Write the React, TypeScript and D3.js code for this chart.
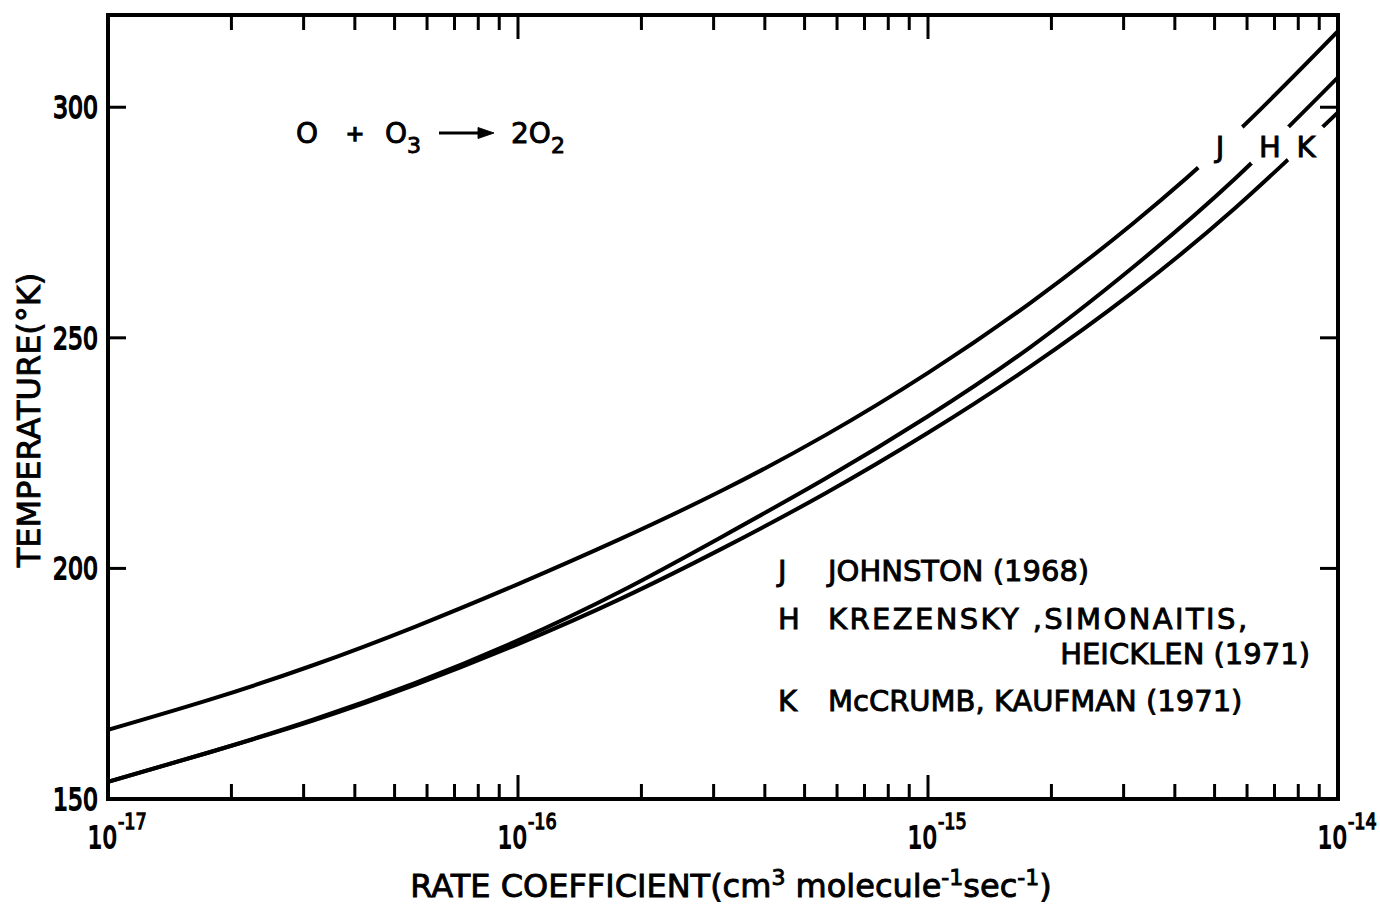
import * as d3 from "d3";

// rate coefficient (cm3 molecule-1 sec-1), quarter-decade steps
const rateCoeff = [
  1e-17, 1.778e-17, 3.162e-17, 5.623e-17,
  1e-16, 1.778e-16, 3.162e-16, 5.623e-16,
  1e-15, 1.778e-15, 3.162e-15, 5.623e-15,
  1e-14,
];
// temperature (K)
const tempJ = [165.0, 171.6, 179.0, 187.4, 196.6, 206.4, 217.0, 228.9, 242.4, 257.6, 274.8, 294.3, 316.5];
const tempH = [153.7, 160.2, 167.2, 175.2, 184.4, 195.0, 207.0, 219.5, 233.0, 248.0, 265.3, 284.6, 306.5];
const tempK = [153.7, 160.2, 167.0, 174.8, 183.6, 193.4, 204.4, 216.3, 229.4, 243.8, 259.9, 278.2, 298.9];

const seriesKeys = ["J", "H", "K"];
const yTicks = [200, 250, 300];
const yTickLabels = [150, 200, 250, 300];
const xDecades = [-17, -16, -15, -14];

const legendKeys = ["J", "H", "K"];
const legendNames = ["JOHNSTON (1968)", "KREZENSKY ,SIMONAITIS,", "McCRUMB,  KAUFMAN (1971)"];
const legendExtra = "HEICKLEN (1971)";

const W = 1380, H = 909;
const left = 108, right = 1338, top = 15, bottom = 799;

const font = "'DejaVu Sans', sans-serif";
// heavier lettering, like the stencilled original
const ink = { fill: "#000", stroke: "#000", strokeWidth: 0.9 };

export default function App() {
  const x = d3.scaleLog().domain([1e-17, 1e-14]).range([left, right]);
  const y = d3.scaleLinear().domain([150, 320]).range([bottom, top]);

  const series = [tempJ, tempH, tempK];
  const line = d3
    .line<number>()
    .x((_, i) => x(rateCoeff[i]))
    .y((d) => y(d))
    .curve(d3.curveNatural);

  // label spots sit in a break of each curve
  const labelPos = [
    { x: 1220, y: 147, r: 30 },
    { x: 1270, y: 145, r: 26 },
    { x: 1306, y: 144, r: 24 },
  ];

  const xTicks = x.ticks();
  const isMajor = (t: number) => Math.abs(Math.log10(t) - Math.round(Math.log10(t))) < 1e-6;

  return (
    <svg width={W} height={H} style={{ position: "absolute", left: 0, top: 0, background: "#fff" }}>
      <defs>
        <clipPath id="plot">
          <rect x={left} y={top} width={right - left} height={bottom - top} />
        </clipPath>
        {labelPos.map((p, i) => (
          <mask id={"gap" + i} key={i}>
            <rect x={0} y={0} width={W} height={H} fill="#fff" />
            <circle cx={p.x} cy={p.y} r={p.r} fill="#000" />
          </mask>
        ))}
      </defs>

      {/* curves */}
      <g clipPath="url(#plot)">
        {series.map((s, i) => (
          <path key={i} d={line(s) || ""} fill="none" stroke="#000" strokeWidth={4} mask={`url(#gap${i})`} />
        ))}
      </g>

      {/* frame */}
      <rect x={left} y={top} width={right - left} height={bottom - top} fill="none" stroke="#000" strokeWidth={4} />

      {/* x ticks, bottom and top */}
      <g stroke="#000" strokeWidth={3}>
        {xTicks.map((t, i) => {
          const len = isMajor(t) ? 24 : 15;
          return (
            <g key={i}>
              <line x1={x(t)} x2={x(t)} y1={bottom} y2={bottom - len} />
              <line x1={x(t)} x2={x(t)} y1={top} y2={top + len} />
            </g>
          );
        })}
        {yTicks.map((t) => (
          <g key={t}>
            <line x1={left} x2={left + 18} y1={y(t)} y2={y(t)} />
            <line x1={right} x2={right - 18} y1={y(t)} y2={y(t)} />
          </g>
        ))}
      </g>

      {/* y tick labels */}
      {yTickLabels.map((t) => (
        <text
          key={t}
          transform={`translate(98,${y(t) + 11}) scale(0.76,1)`}
          textAnchor="end"
          fontFamily={font}
          fontSize={31}
          {...ink}
          strokeWidth={1.8}
        >
          {t}
        </text>
      ))}

      {/* x tick labels */}
      {xDecades.map((e) => {
        const px = x(Math.pow(10, e));
        return (
          <g key={e} fontFamily={font} {...ink} strokeWidth={1.8}>
            <text transform={`translate(${px + 9},848) scale(0.74,1)`} textAnchor="end" fontSize={31}>10</text>
            <text transform={`translate(${px + 10},829) scale(0.8,1)`} fontSize={22} strokeWidth={1.3}>
              {"-" + Math.abs(e)}
            </text>
          </g>
        );
      })}

      {/* axis titles */}
      <text x={731} y={897} textAnchor="middle" fontFamily={font} fontSize={32} {...ink}>
        RATE COEFFICIENT(cm<tspan fontSize={22} dy={-12}>3</tspan>
        <tspan dy={12}> molecule</tspan>
        <tspan fontSize={22} dy={-12}>-1</tspan>
        <tspan dy={12}>sec</tspan>
        <tspan fontSize={22} dy={-12}>-1</tspan>
        <tspan dy={12}>)</tspan>
      </text>
      <text
        transform="translate(40,420) rotate(-90)"
        textAnchor="middle"
        fontFamily={font}
        fontSize={32}
        {...ink}
      >
        TEMPERATURE(°K)
      </text>

      {/* reaction */}
      <g fontFamily={font} fontSize={28} {...ink}>
        <text x={296} y={143}>O</text>
        <text x={355} y={141} textAnchor="middle" fontSize={22} strokeWidth={1.5}>+</text>
        <text x={385} y={143}>O</text>
        <text x={407} y={153} fontSize={22}>3</text>
        <line x1={439} x2={482} y1={133} y2={133} stroke="#000" strokeWidth={3} />
        <polygon points="478,127.5 494,133 478,138.5" fill="#000" />
        <text x={511} y={143}>2O</text>
        <text x={551} y={153} fontSize={22}>2</text>
      </g>

      {/* curve letters */}
      {seriesKeys.map((k, i) => (
        <text key={k} x={labelPos[i].x} y={157} textAnchor="middle" fontFamily={font} fontSize={29} {...ink}>
          {k}
        </text>
      ))}

      {/* legend */}
      <g fontFamily={font} fontSize={29} {...ink}>
        {legendKeys.map((k, i) => {
          const by = [581, 629, 711][i];
          return (
            <g key={k}>
              <text x={778} y={by}>{k}</text>
              <text x={828} y={by} letterSpacing={i === 1 ? 2.4 : 0}>{legendNames[i]}</text>
            </g>
          );
        })}
        <text x={1310} y={664} textAnchor="end">{legendExtra}</text>
      </g>
    </svg>
  );
}
